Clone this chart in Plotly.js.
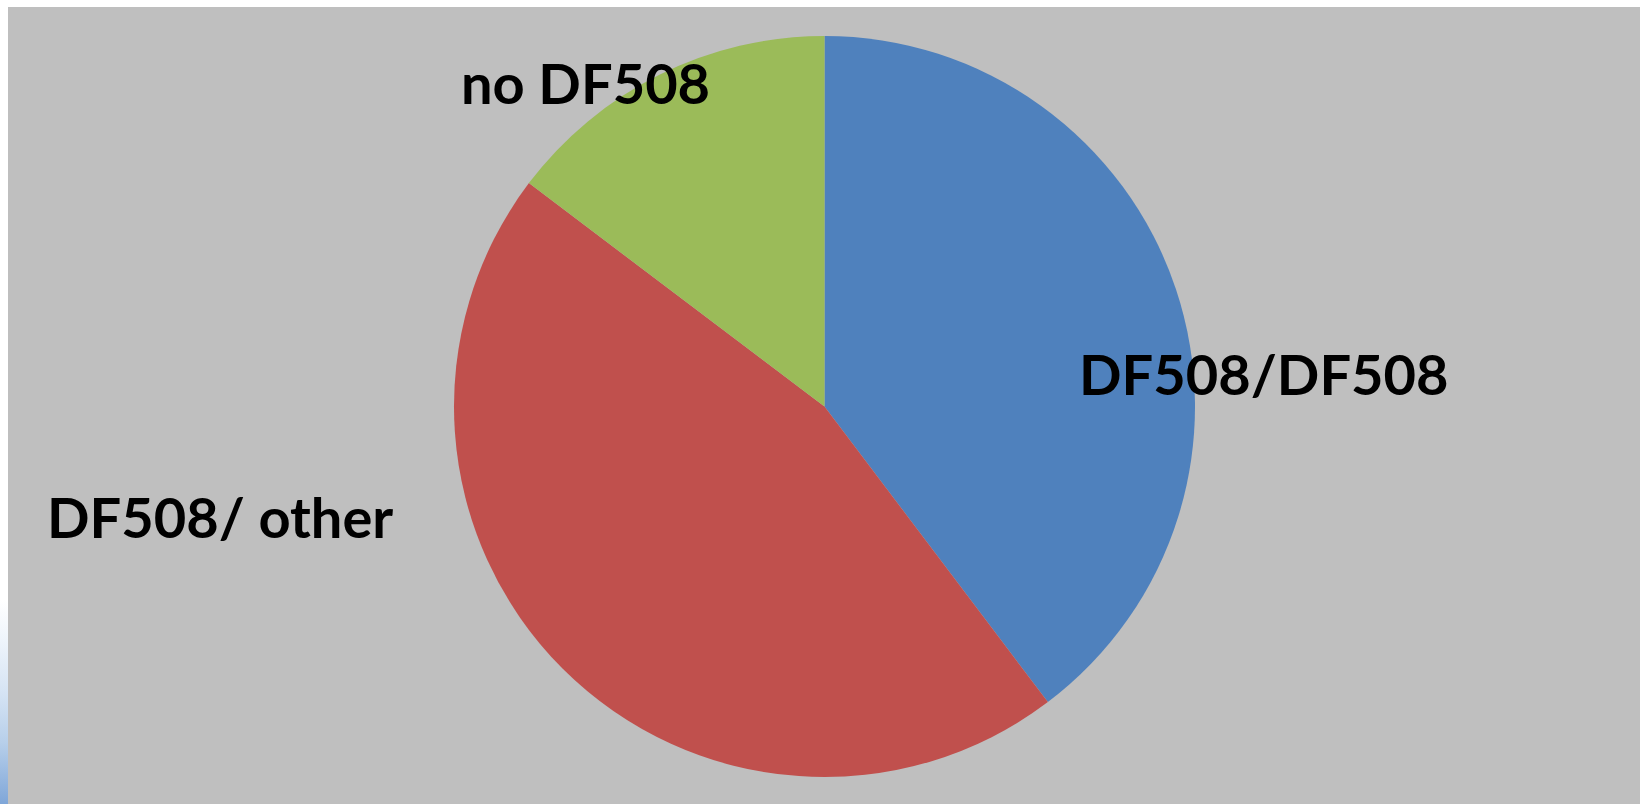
<!DOCTYPE html>
<html>
<head>
<meta charset="utf-8">
<script src="https://cdn.plot.ly/plotly-3.0.1.min.js"></script>
<style>
  html, body { margin: 0; padding: 0; background: #ffffff; overflow: hidden; }
  #chart { position: absolute; left: 0; top: 0; width: 1640px; height: 804px; }
  #edge {
    position: absolute; left: 0; top: 600px; width: 8px; height: 204px;
    background: linear-gradient(to bottom, #ffffff 0%, #eef4fb 20%, #d6e4f4 45%, #b7cfea 70%, #7fa6d8 100%);
  }
</style>
</head>
<body>
<div id="chart"></div>
<div id="edge"></div>
<script>
// Genotype shares (percent of patients)
const genotypes = ['DF508/DF508', 'DF508/ other', 'no DF508'];
const shares = [39.7, 45.6, 14.7];
const sliceColors = ['#4F81BD', '#C0504D', '#9BBB59'];

// Label placement (paper coordinates)
const labelX = [0.771, 0.134, 0.357];
const labelY = [0.536, 0.357, 0.897];

const W = 1640, H = 804;

const trace = {
  type: 'pie',
  labels: genotypes,
  values: shares,
  sort: false,
  direction: 'clockwise',
  rotation: 0,
  textinfo: 'none',
  hoverinfo: 'label+percent',
  marker: { colors: sliceColors, line: { width: 0 } },
  domain: { x: [454 / W, 1195 / W], y: [(H - 777) / H, (H - 36) / H] },
  showlegend: false
};

const annotations = genotypes.map((g, i) => ({
  text: '<b>' + g + '</b>',
  xref: 'paper', yref: 'paper',
  x: labelX[i], y: labelY[i],
  xanchor: 'center', yanchor: 'middle',
  showarrow: false,
  font: { family: 'Lato, "Open Sans", sans-serif', size: 56, color: '#000000' }
}));

const layout = {
  width: W, height: H,
  margin: { l: 0, r: 0, t: 0, b: 0 },
  paper_bgcolor: '#ffffff',
  shapes: [{
    type: 'rect', xref: 'paper', yref: 'paper', layer: 'below',
    x0: 8 / W, x1: 1, y0: 0, y1: 1 - 7 / H,
    fillcolor: '#BFBFBF', line: { width: 0 }
  }],
  annotations: annotations
};

Plotly.newPlot('chart', [trace], layout, { displayModeBar: false, staticPlot: true });
</script>
</body>
</html>
